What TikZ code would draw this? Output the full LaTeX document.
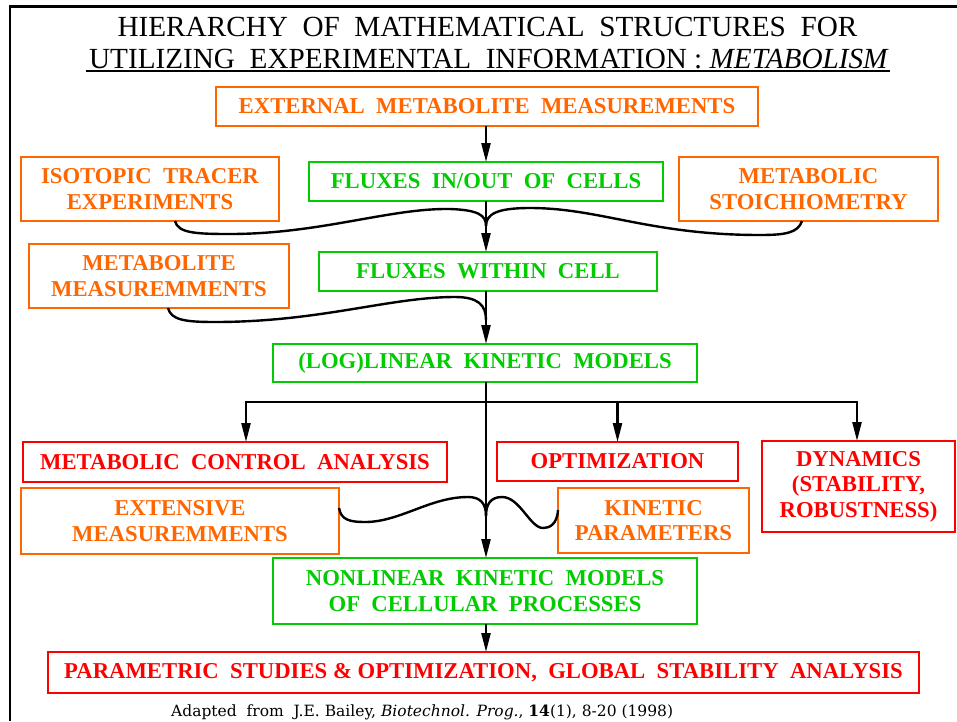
\documentclass[tikz,border=0pt]{standalone}
\usepackage{fontspec}
\setmainfont{Liberation Serif}
\newfontfamily\notefont{DejaVu Serif}
\usetikzlibrary{arrows.meta,calc}
\definecolor{morange}{RGB}{255,102,0}
\definecolor{mgreen}{RGB}{0,204,0}
\definecolor{mred}{RGB}{255,0,0}
\tikzset{
  box/.style={draw, line width=2.4pt, inner sep=0pt, outer sep=0pt, align=center,
              font=\fontsize{22.7}{25.5}\selectfont\bfseries},
  obox/.style={box, draw=morange, text=morange},
  gbox/.style={box, draw=mgreen, text=mgreen},
  rbox/.style={box, draw=mred, text=mred},
  conn/.style={line width=2.4pt, black},
  arr/.style={conn, -{Triangle[length=19pt,width=9pt]}},
  titletext/.style={inner sep=0pt, anchor=base, font=\fontsize{29.2}{30}\selectfont}
}
\begin{document}
\begin{tikzpicture}[x=1pt,y=-1pt]
\useasboundingbox (0,0) rectangle (957,721);

% frame
\draw[line width=2.5pt] (10,721) -- (10,6.5) -- (957,6.5);

% title
\node[titletext] (t1) at (487.5,36.5) {HIERARCHY~ OF~ MATHEMATICAL~ STRUCTURES~ FOR};
\node[titletext] (t2) at (489,68.3) {UTILIZING~ EXPERIMENTAL~ INFORMATION : \textit{METABOLISM}};
\draw[line width=2pt] ($(t2.base west)+(-3,2.6)$) -- ($(t2.base east)+(1,2.6)$);

% boxes
\node[obox, minimum width=542, minimum height=39] (ext) at (487,106.5) {EXTERNAL~ METABOLITE~ MEASUREMENTS};
\node[obox, minimum width=258, minimum height=64] (iso) at (150,189) {ISOTOPIC~ TRACER\\EXPERIMENTS};
\node[gbox, minimum width=354, minimum height=39] (inout) at (486,181.5) {FLUXES~ IN/OUT~ OF~ CELLS};
\node[obox, minimum width=259, minimum height=64] (stoich) at (808.5,189) {METABOLIC\\STOICHIOMETRY};
\node[obox, minimum width=260, minimum height=64] (metmeas) at (159,276) {METABOLITE\\MEASUREMMENTS};
\node[gbox, minimum width=338, minimum height=39] (within) at (488,271.5) {FLUXES~ WITHIN~ CELL};
\node[gbox, minimum width=424, minimum height=38] (loglin) at (485,363) {(LOG)LINEAR~ KINETIC~ MODELS};
\node[rbox, minimum width=424, minimum height=40] (mca) at (235,462) {METABOLIC~ CONTROL~ ANALYSIS};
\node[rbox, minimum width=241, minimum height=39] (optim) at (617.5,461.5) {OPTIMIZATION};
\node[rbox, minimum width=193, minimum height=91] (dyn) at (858.5,486.5) {DYNAMICS\\(STABILITY,\\ROBUSTNESS)};
\node[obox, minimum width=318, minimum height=66] (extm) at (180,521) {EXTENSIVE\\MEASUREMMENTS};
\node[obox, minimum width=191, minimum height=65] (kin) at (653.5,520.5) {KINETIC\\PARAMETERS};
\node[gbox, minimum width=424, minimum height=66] (nonlin) at (485,591) {NONLINEAR~ KINETIC~ MODELS\\OF~ CELLULAR~ PROCESSES};
\node[rbox, minimum width=871, minimum height=41] (param) at (483.5,672.5) {PARAMETRIC~ STUDIES \& OPTIMIZATION,~ GLOBAL~ STABILITY~ ANALYSIS};

% source
\node[anchor=base west, inner sep=0pt, font=\notefont\fontsize{15.5}{17}\selectfont] (src) at (171,716.5)
  {Adapted~ from~ J.E. Bailey, \textit{Biotechnol. Prog.}, \textbf{14}(1), 8-20 (1998)};

% main trunk
\coordinate (trunk) at (486,0);
\draw[arr] (ext.south -| trunk) -- (inout.north -| trunk);
\draw[arr] (inout.south -| trunk) -- (within.north -| trunk);
\draw[arr] (within.south -| trunk) -- (loglin.north -| trunk);
\draw[arr] (loglin.south -| trunk) -- (nonlin.north -| trunk);
\draw[arr] (nonlin.south -| trunk) -- (param.north -| trunk);

% merging inputs
\coordinate (m1) at (486,226);
\coordinate (m2) at (486,320);
\coordinate (m3) at (486,516);
\draw[conn] ([xshift=25pt]iso.south) .. controls (178,233) and (195,234) .. (230,234)
  .. controls (320,234) and (390,208) .. (450,209) .. controls (478,210) and (486,215) .. (m1);
\draw[conn] ([xshift=-6.5pt]stoich.south) .. controls (798,233) and (785,235) .. (760,235)
  .. controls (650,235) and (600,208) .. (530,208) .. controls (497,208) and (486,214) .. (m1);
\draw[conn] ([xshift=9pt]metmeas.south) .. controls (171,320) and (185,322) .. (215,322)
  .. controls (320,322) and (390,297) .. (455,297) .. controls (478,297) and (486,305) .. (m2);
\draw[conn] ([yshift=13pt]extm.east) .. controls (341,520) and (350,522) .. (365,522)
  .. controls (400,522) and (430,497) .. (468,497) .. controls (480,497) and (486,503) .. (m3);
\draw[conn] ([yshift=10.5pt]kin.west) .. controls (557,525) and (549,528) .. (543,528)
  .. controls (530,528) and (520,497) .. (502,497) .. controls (490,497) and (486,505) .. (m3);

% branches
\coordinate (bar) at (486,402);
\draw[arr] (bar) -| ([xshift=11pt]mca.north);
\draw[arr] (bar) -| (optim.north);
\draw[arr] (bar) -| ([xshift=-1.5pt]dyn.north);
\end{tikzpicture}
\end{document}
